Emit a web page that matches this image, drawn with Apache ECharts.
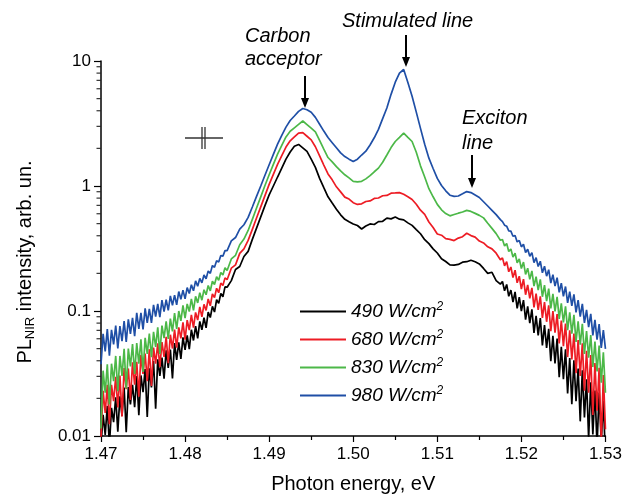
<!DOCTYPE html>
<html>
<head>
<meta charset="utf-8">
<script src="https://cdn.jsdelivr.net/npm/echarts@6/dist/echarts.min.js"></script>
<style>
html, body { margin: 0; padding: 0; background: #fff; }
#main { width: 625px; height: 500px; }
</style>
</head>
<body>
<div id="main"></div>
<script>
// photon energy grid: 1.47 .. 1.53 eV, 0.5 meV steps (index 0..120)
var eStart = 1.47, eStep = 0.0005;
// the noisy tails have extra readings half way between grid points
var leftMidStart = 0.5, rightMidStart = 95.5;

var powers = ['490', '680', '830', '980'];
var colors = ['#000000', '#ed1c24', '#4cb848', '#1f4fa6'];

var pl490 = [
  0.0083, 0.0102, 0.0084, 0.0129, 0.0108, 0.0145, 0.0107, 0.0179, 0.0170, 0.0147,
  0.0224, 0.0142, 0.0245, 0.0165, 0.0302, 0.0287, 0.0350, 0.0289, 0.0406, 0.0413,
  0.0488, 0.0496, 0.0581, 0.0604, 0.0706, 0.0734, 0.0887, 0.0981, 0.115, 0.130,
  0.155, 0.175, 0.215, 0.227, 0.273, 0.300, 0.374, 0.460, 0.566, 0.697,
  0.849, 1.00, 1.18, 1.39, 1.64, 1.87, 2.08, 2.15, 2.02, 1.89,
  1.64, 1.41, 1.15, 0.970, 0.820, 0.730, 0.652, 0.588, 0.541, 0.518,
  0.497, 0.483, 0.453, 0.478, 0.497, 0.492, 0.519, 0.522, 0.554, 0.546,
  0.564, 0.543, 0.536, 0.507, 0.484, 0.448, 0.415, 0.372, 0.346, 0.314,
  0.291, 0.262, 0.249, 0.234, 0.233, 0.236, 0.246, 0.248, 0.255, 0.248,
  0.238, 0.219, 0.200, 0.204, 0.175, 0.164, 0.145, 0.131, 0.118, 0.105,
  0.100, 0.0853, 0.0801, 0.0668, 0.0639, 0.0531, 0.0507, 0.0397, 0.0381, 0.0296,
  0.0285, 0.0219, 0.0180, 0.0190, 0.0131, 0.0141, 0.0095, 0.0103, 0.0084, 0.0090,
  0.0067
];
var pl490LeftMid = [
  0.0148, 0.0174, 0.0168, 0.0204, 0.0208, 0.0244, 0.0246, 0.0257, 0.0302, 0.0305,
  0.0343, 0.0348, 0.0398, 0.0410, 0.0423, 0.0484, 0.0492, 0.0553, 0.0562, 0.0615,
  0.0637, 0.0708, 0.0758, 0.0826, 0.0883, 0.0980, 0.109, 0.123, 0.138, 0.156
];
var pl490RightMid = [
  0.172, 0.163, 0.147, 0.142, 0.129, 0.122, 0.109, 0.103, 0.0915, 0.0877,
  0.0771, 0.0720, 0.0634, 0.0601, 0.0516, 0.0493, 0.0421, 0.0403, 0.0346, 0.0335,
  0.0284, 0.0269, 0.0231, 0.0223, 0.0192
];

var pl680 = [
  0.0097, 0.0153, 0.0124, 0.0190, 0.0169, 0.0143, 0.0237, 0.0194, 0.0257, 0.0206,
  0.0314, 0.0275, 0.0251, 0.0379, 0.0356, 0.0430, 0.0382, 0.0501, 0.0509, 0.0604,
  0.0591, 0.0704, 0.0737, 0.0845, 0.0898, 0.101, 0.110, 0.128, 0.140, 0.160,
  0.178, 0.220, 0.234, 0.289, 0.314, 0.367, 0.450, 0.554, 0.681, 0.838,
  1.03, 1.24, 1.49, 1.75, 2.05, 2.30, 2.47, 2.65, 2.67, 2.50,
  2.34, 2.06, 1.74, 1.47, 1.25, 1.12, 0.985, 0.897, 0.815, 0.786,
  0.735, 0.712, 0.720, 0.752, 0.760, 0.795, 0.802, 0.836, 0.840, 0.876,
  0.880, 0.885, 0.858, 0.821, 0.780, 0.715, 0.641, 0.592, 0.515, 0.466,
  0.413, 0.404, 0.379, 0.374, 0.366, 0.383, 0.393, 0.419, 0.401, 0.390,
  0.363, 0.350, 0.326, 0.314, 0.290, 0.257, 0.230, 0.206, 0.185, 0.168,
  0.150, 0.135, 0.126, 0.107, 0.102, 0.0880, 0.0820, 0.0689, 0.0670, 0.0551,
  0.0523, 0.0428, 0.0409, 0.0318, 0.0302, 0.0230, 0.0222, 0.0147, 0.0159, 0.0089,
  0.0113
];
var pl680LeftMid = [
  0.0230, 0.0257, 0.0257, 0.0297, 0.0305, 0.0350, 0.0347, 0.0388, 0.0392, 0.0445,
  0.0457, 0.0495, 0.0510, 0.0552, 0.0564, 0.0621, 0.0646, 0.0710, 0.0740, 0.0812,
  0.0846, 0.0933, 0.0974, 0.108, 0.113, 0.125, 0.137, 0.152, 0.167, 0.184
];
var pl680RightMid = [
  0.266, 0.248, 0.225, 0.212, 0.190, 0.180, 0.162, 0.153, 0.138, 0.131,
  0.118, 0.111, 0.100, 0.0945, 0.0840, 0.0794, 0.0700, 0.0659, 0.0586, 0.0551,
  0.0481, 0.0445, 0.0384, 0.0352, 0.0307
];

var pl830 = [
  0.0115, 0.0222, 0.0179, 0.0275, 0.0228, 0.0302, 0.0240, 0.0360, 0.0314, 0.0379,
  0.0325, 0.0454, 0.0427, 0.0516, 0.0454, 0.0607, 0.0598, 0.0688, 0.0718, 0.0835,
  0.0876, 0.0990, 0.101, 0.116, 0.122, 0.135, 0.145, 0.163, 0.176, 0.194,
  0.211, 0.261, 0.279, 0.339, 0.376, 0.441, 0.541, 0.666, 0.818, 1.01,
  1.23, 1.49, 1.80, 2.11, 2.47, 2.74, 2.92, 3.11, 3.31, 3.10,
  2.90, 2.71, 2.32, 1.97, 1.69, 1.56, 1.43, 1.32, 1.23, 1.16,
  1.09, 1.08, 1.09, 1.14, 1.21, 1.30, 1.39, 1.55, 1.77, 2.03,
  2.27, 2.45, 2.65, 2.45, 2.27, 1.86, 1.45, 1.18, 0.951, 0.820,
  0.713, 0.645, 0.602, 0.577, 0.592, 0.606, 0.619, 0.638, 0.626, 0.604,
  0.582, 0.556, 0.504, 0.458, 0.416, 0.368, 0.331, 0.299, 0.270, 0.243,
  0.219, 0.196, 0.179, 0.158, 0.147, 0.130, 0.120, 0.105, 0.0991, 0.0864,
  0.0809, 0.0703, 0.0659, 0.0565, 0.0537, 0.0453, 0.0424, 0.0356, 0.0329, 0.0267,
  0.0222
];
var pl830LeftMid = [
  0.0333, 0.0374, 0.0379, 0.0437, 0.0437, 0.0498, 0.0501, 0.0544, 0.0553, 0.0594,
  0.0610, 0.0661, 0.0682, 0.0740, 0.0763, 0.0826, 0.0870, 0.0960, 0.100, 0.111,
  0.114, 0.125, 0.131, 0.140, 0.148, 0.160, 0.173, 0.188, 0.203, 0.222
];
var pl830RightMid = [
  0.373, 0.347, 0.313, 0.290, 0.261, 0.246, 0.220, 0.209, 0.188, 0.179,
  0.161, 0.151, 0.137, 0.130, 0.115, 0.109, 0.0974, 0.0930, 0.0828, 0.0790,
  0.0691, 0.0643, 0.0569, 0.0529, 0.0468
];

var pl980 = [
  0.0375, 0.0476, 0.0440, 0.0540, 0.0502, 0.0573, 0.0567, 0.0656, 0.0628, 0.0719,
  0.0713, 0.0802, 0.0802, 0.0900, 0.0893, 0.0990, 0.101, 0.111, 0.112, 0.124,
  0.125, 0.138, 0.145, 0.158, 0.168, 0.181, 0.200, 0.224, 0.247, 0.275,
  0.304, 0.364, 0.387, 0.452, 0.490, 0.561, 0.679, 0.826, 1.00, 1.22,
  1.48, 1.79, 2.16, 2.54, 2.96, 3.34, 3.63, 3.95, 4.17, 4.07,
  3.89, 3.54, 3.12, 2.75, 2.44, 2.22, 2.02, 1.84, 1.72, 1.64,
  1.57, 1.64, 1.77, 1.90, 2.13, 2.43, 2.84, 3.46, 4.21, 5.41,
  6.77, 8.0, 8.55, 6.73, 5.22, 3.90, 2.89, 2.16, 1.67, 1.38,
  1.15, 1.01, 0.915, 0.844, 0.826, 0.832, 0.866, 0.902, 0.886, 0.847,
  0.809, 0.748, 0.692, 0.639, 0.590, 0.538, 0.486, 0.438, 0.396, 0.357,
  0.326, 0.294, 0.274, 0.244, 0.227, 0.202, 0.190, 0.167, 0.158, 0.141,
  0.131, 0.116, 0.110, 0.0974, 0.0901, 0.0802, 0.0742, 0.0638, 0.0590, 0.0507,
  0.0498
];
var pl980LeftMid = [
  0.0656, 0.0716, 0.0708, 0.0766, 0.0757, 0.0829, 0.0858, 0.0880, 0.0966, 0.0966,
  0.105, 0.104, 0.112, 0.114, 0.122, 0.123, 0.132, 0.134, 0.143, 0.147,
  0.154, 0.162, 0.174, 0.182, 0.194, 0.209, 0.231, 0.252, 0.278, 0.304
];
var pl980RightMid = [
  0.519, 0.477, 0.436, 0.402, 0.367, 0.342, 0.312, 0.293, 0.267, 0.250,
  0.228, 0.214, 0.195, 0.185, 0.167, 0.157, 0.143, 0.136, 0.122, 0.114,
  0.102, 0.0948, 0.0848, 0.0787, 0.0703
];

var spectra = [
  [pl490, pl490LeftMid, pl490RightMid],
  [pl680, pl680LeftMid, pl680RightMid],
  [pl830, pl830LeftMid, pl830RightMid],
  [pl980, pl980LeftMid, pl980RightMid]
];

// minor ticks of the log axis (2..9 in every decade)
var logMinor = [0.02, 0.03, 0.04, 0.05, 0.06, 0.07, 0.08, 0.09,
                0.2, 0.3, 0.4, 0.5, 0.6, 0.7, 0.8, 0.9,
                2, 3, 4, 5, 6, 7, 8, 9];

var font = 'Liberation Sans, Arial, sans-serif';

function buildPoints(main, leftMid, rightMid) {
  var pts = main.map(function (v, i) { return [i, v]; });
  leftMid.forEach(function (v, j) { pts.push([leftMidStart + j, v]); });
  rightMid.forEach(function (v, j) { pts.push([rightMidStart + j, v]); });
  pts.sort(function (a, b) { return a[0] - b[0]; });
  return pts.map(function (p) { return [+(eStart + p[0] * eStep).toFixed(5), p[1]]; });
}

var chart = echarts.init(document.getElementById('main'));

var series = powers.map(function (p, k) {
  return {
    name: p,
    type: 'line',
    symbol: 'none',
    animation: false,
    data: buildPoints(spectra[k][0], spectra[k][1], spectra[k][2]),
    lineStyle: { color: colors[k], width: 1.7 },
    itemStyle: { color: colors[k] }
  };
});

// log-axis minor ticks as small dashes just left of the y axis line
series.push({
  type: 'scatter',
  name: 'minorTicks',
  silent: true,
  clip: false,
  animation: false,
  z: 10,
  symbol: 'rect',
  symbolSize: [4, 1.2],
  symbolOffset: [-2.5, 0],
  itemStyle: { color: '#000' },
  data: logMinor.map(function (v) { return [eStart, v]; })
});

function arrow(x, y1, y2) {
  return [
    { type: 'line', shape: { x1: x, y1: y1, x2: x, y2: y2 - 8 }, style: { stroke: '#000', lineWidth: 2 } },
    { type: 'polygon', shape: { points: [[x - 4, y2 - 10], [x + 4, y2 - 10], [x, y2]] }, style: { fill: '#000' } }
  ];
}

function label(txt, x, y) {
  return {
    type: 'text', x: x, y: y,
    style: { text: txt, fontFamily: font, fontSize: 20, fontStyle: 'italic', fill: '#000', align: 'left', verticalAlign: 'middle' }
  };
}

var graphics = [
  label('Carbon', 245, 36),
  label('acceptor', 245, 59),
  label('Stimulated line', 342, 21),
  label('Exciton', 462, 118),
  label('line', 462, 143),
  // resolution cross
  { type: 'line', shape: { x1: 185, y1: 138, x2: 223, y2: 138 }, style: { stroke: '#333', lineWidth: 1.5 } },
  { type: 'line', shape: { x1: 202, y1: 127, x2: 202, y2: 149 }, style: { stroke: '#333', lineWidth: 1.3 } },
  { type: 'line', shape: { x1: 205, y1: 127, x2: 205, y2: 149 }, style: { stroke: '#333', lineWidth: 1.3 } },
  // y axis title with subscript
  {
    type: 'text', x: 25, y: 262, rotation: Math.PI / 2,
    style: {
      text: '{a|PL}{b|NIR}{a| intensity, arb. un.}',
      align: 'center', verticalAlign: 'middle',
      rich: {
        a: { fontFamily: font, fontSize: 20, fill: '#000', lineHeight: 24 },
        b: { fontFamily: font, fontSize: 13, fill: '#000', lineHeight: 13, verticalAlign: 'bottom' }
      }
    }
  }
].concat(arrow(305, 76, 108), arrow(406, 35, 67), arrow(472, 155, 188));

var option = {
  animation: false,
  backgroundColor: '#fff',
  grid: { left: 101, right: 14, top: 61, bottom: 64 },
  legend: {
    data: powers,
    orient: 'vertical',
    left: 300,
    top: 301,
    padding: 0,
    icon: 'rect',
    itemWidth: 46,
    itemHeight: 2,
    itemGap: 8,
    formatter: function (name) { return '{t|' + name + ' W/cm}{s|2}'; },
    textStyle: {
      fontFamily: font,
      color: '#000',
      rich: {
        t: { fontFamily: font, fontSize: 19, fontStyle: 'italic', lineHeight: 21 },
        s: { fontFamily: font, fontSize: 12, fontStyle: 'italic', lineHeight: 12, verticalAlign: 'top' }
      }
    }
  },
  xAxis: {
    type: 'value',
    min: 1.47,
    max: 1.53,
    interval: 0.01,
    name: 'Photon energy, eV',
    nameLocation: 'middle',
    nameGap: 38,
    nameTextStyle: { fontFamily: font, fontSize: 20, color: '#000' },
    axisLine: { lineStyle: { color: '#000', width: 1.5 } },
    axisTick: { length: 6, lineStyle: { color: '#000', width: 1.2 } },
    minorTick: { show: true, splitNumber: 2, length: 4, lineStyle: { color: '#000', width: 1.2 } },
    splitLine: { show: false },
    axisLabel: {
      fontFamily: font, fontSize: 17, color: '#000', margin: 10,
      formatter: function (v) { return v.toFixed(2); }
    }
  },
  yAxis: {
    type: 'log',
    logBase: 10,
    min: 0.01,
    max: 10,
    axisLine: { show: true, lineStyle: { color: '#000', width: 1.5 } },
    axisTick: { show: true, length: 7, lineStyle: { color: '#000', width: 1.2 } },
    splitLine: { show: false },
    axisLabel: {
      fontFamily: font, fontSize: 17, color: '#000', margin: 10,
      formatter: function (v) { return String(+v.toPrecision(3)); }
    }
  },
  graphic: graphics,
  series: series
};

chart.setOption(option);
</script>
</body>
</html>
